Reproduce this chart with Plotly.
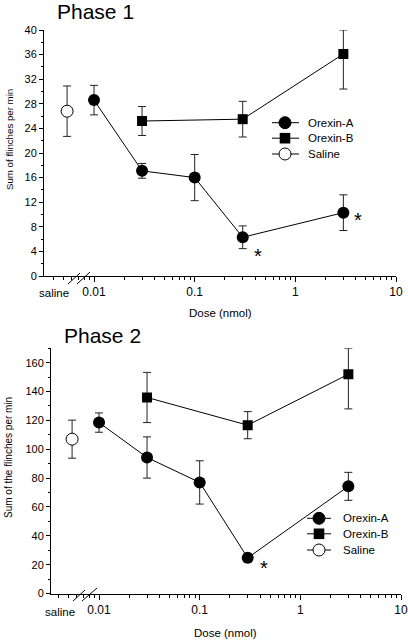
import math
import plotly.graph_objects as go

W, H = 408, 640
FONT = "Liberation Sans, Arial, sans-serif"

# ---------------- data ----------------
doses_A = [0.01, 0.03, 0.1, 0.3, 3]
doses_B = [0.03, 0.3, 3]
saline_pos = 0.0054          # plotting position of the saline group (broken axis)

p1_orexA = [28.6, 17.1, 16.0, 6.3, 10.3]
p1_orexA_err = [2.4, 1.2, 3.75, 1.85, 2.9]
p1_orexB = [25.2, 25.5, 36.1]
p1_orexB_err_up = [2.35, 2.9, 3.9]
p1_orexB_err_dn = [2.35, 2.9, 5.7]
p1_saline = [26.8]
p1_saline_err = [4.1]

p2_orexA = [118.5, 94.3, 77.0, 24.7, 74.3]
p2_orexA_err = [6.7, 14.3, 15.0, 3.0, 9.7]
p2_orexB = [135.9, 116.7, 152.0]
p2_orexB_err_up = [17.4, 9.4, 18.0]
p2_orexB_err_dn = [17.4, 9.4, 24.0]
p2_saline = [107.0]
p2_saline_err = [13.2]

x_tickvals = [0.01, 0.1, 1, 10]
x_ticktext = ["0.01", "0.1", "1", "10"]
x_minor = [m * 10.0 ** e for e in range(-3, 1) for m in range(2, 10)]

series_names = ["Orexin-A", "Orexin-B", "Saline"]


def px(x):
    return x / W


def py(y):
    return 1 - y / H


ERR = dict(color="#222", thickness=1, width=4)

fig = go.Figure()


def add_panel(xa, ya, A, Aerr, B, Bup, Bdn, S, Serr):
    fig.add_trace(go.Scatter(
        x=[saline_pos], y=S, mode="markers", name="Saline", showlegend=False,
        marker=dict(symbol="circle", size=12, color="white", line=dict(color="black", width=1)),
        error_y=dict(type="data", array=Serr, **ERR), xaxis=xa, yaxis=ya))
    fig.add_trace(go.Scatter(
        x=doses_B, y=B, mode="lines+markers", name="Orexin-B", showlegend=False,
        line=dict(color="black", width=1),
        marker=dict(symbol="square", size=10, color="black"),
        error_y=dict(type="data", array=Bup, arrayminus=Bdn, symmetric=False, **ERR),
        xaxis=xa, yaxis=ya))
    fig.add_trace(go.Scatter(
        x=doses_A, y=A, mode="lines+markers", name="Orexin-A", showlegend=False,
        line=dict(color="black", width=1),
        marker=dict(symbol="circle", size=12, color="black"),
        error_y=dict(type="data", array=Aerr, **ERR),
        xaxis=xa, yaxis=ya))


add_panel("x", "y", p1_orexA, p1_orexA_err, p1_orexB, p1_orexB_err_up, p1_orexB_err_dn,
          p1_saline, p1_saline_err)
add_panel("x2", "y2", p2_orexA, p2_orexA_err, p2_orexB, p2_orexB_err_up, p2_orexB_err_dn,
          p2_saline, p2_saline_err)


def xaxis_cfg(domain, rng, anchor):
    return dict(type="log", range=rng, domain=domain, anchor=anchor,
                showline=True, linecolor="black", linewidth=1, showgrid=False, zeroline=False,
                ticks="outside", ticklen=5, tickwidth=1, tickcolor="black",
                tickmode="array", tickvals=x_tickvals, ticktext=x_ticktext,
                tickfont=dict(family=FONT, size=12, color="black"),
                minor=dict(tickmode="array", tickvals=x_minor, ticks="outside",
                           ticklen=3, tickwidth=1, tickcolor="black"),
                automargin=False, fixedrange=True)


def yaxis_cfg(domain, rng, anchor, dtick, mdtick):
    return dict(range=rng, domain=domain, anchor=anchor,
                showline=True, linecolor="black", linewidth=1, showgrid=False, zeroline=False,
                ticks="outside", ticklen=4, tickwidth=1, tickcolor="black",
                tick0=0, dtick=dtick,
                tickfont=dict(family=FONT, size=11, color="black"),
                minor=dict(dtick=mdtick, tick0=0, ticks="outside", ticklen=2,
                           tickwidth=1, tickcolor="black"),
                automargin=False, fixedrange=True)


shapes = []
annotations = []


def text(x, y, s, size, **kw):
    annotations.append(dict(x=px(x), y=py(y), xref="paper", yref="paper", text=s,
                            showarrow=False, font=dict(family=FONT, size=size, color="black"),
                            **kw))


def legend(lx0, lx1, mx, tx, ys):
    r = 6
    s = 5.3
    for name, yy in zip(series_names, ys):
        shapes.append(dict(type="line", xref="paper", yref="paper",
                           x0=px(lx0), x1=px(lx1), y0=py(yy), y1=py(yy),
                           line=dict(color="black", width=1)))
        if name == "Orexin-B":
            shapes.append(dict(type="rect", xref="paper", yref="paper",
                               x0=px(mx - s), x1=px(mx + s), y0=py(yy + s), y1=py(yy - s),
                               fillcolor="black", line=dict(color="black", width=0)))
        else:
            shapes.append(dict(type="circle", xref="paper", yref="paper",
                               x0=px(mx - r), x1=px(mx + r), y0=py(yy + r), y1=py(yy - r),
                               fillcolor="black" if name == "Orexin-A" else "white",
                               line=dict(color="black", width=1)))
        text(tx, yy, name, 11.5, xanchor="left", yanchor="middle")


def breakmarks(segs):
    for (x0, y0, x1, y1) in segs:
        shapes.append(dict(type="line", xref="paper", yref="paper",
                           x0=px(x0), y0=py(y0), x1=px(x1), y1=py(y1),
                           line=dict(color="black", width=1)))


# panel 1 decorations
text(55, 11, "Phase 1", 21, xanchor="left", yanchor="middle")
text(9, 140, "Sum of flinches per min", 9.7, textangle=-90, xanchor="center", yanchor="middle")
text(220, 313, "Dose (nmol)", 11.5, xanchor="center", yanchor="middle")
text(54, 293, "saline", 11.5, xanchor="center", yanchor="middle")
legend(272, 299, 285, 306, [122.7, 138.2, 154])
breakmarks([(68, 284, 80, 273), (77, 284, 90, 272)])

# panel 2 decorations
text(62, 335, "Phase 2", 21, xanchor="left", yanchor="middle")
text(8, 458, "Sum of the flinches per min", 10, textangle=-90, xanchor="center", yanchor="middle")
text(225, 633, "Dose (nmol)", 11.5, xanchor="center", yanchor="middle")
text(60, 612, "saline", 11.5, xanchor="center", yanchor="middle")
legend(307, 331, 319, 341, [518.3, 533.8, 550])
breakmarks([(73, 601, 85, 590), (82, 601, 97, 588)])

# significance asterisks, anchored to data points
for xa, ya, xv, yv, dx, dy in [("x", "y", doses_A[3], p1_orexA[3], 15, -19),
                               ("x", "y", doses_A[4], p1_orexA[4], 15, -7),
                               ("x2", "y2", doses_A[3], p2_orexA[3], 16, -10)]:
    annotations.append(dict(x=math.log10(xv), y=yv, xref=xa, yref=ya, text="*",
                            showarrow=False, font=dict(family=FONT, size=20, color="black"),
                            xshift=dx, yshift=dy))

fig.update_layout(
    width=W, height=H, margin=dict(l=0, r=0, t=0, b=0),
    paper_bgcolor="white", plot_bgcolor="white", showlegend=False,
    font=dict(family=FONT, color="black"),
    xaxis=xaxis_cfg([44 / W, 396 / W], [-2.497, 1], "y"),
    yaxis=yaxis_cfg([py(276), py(30)], [0, 40], "x", 4, 2),
    xaxis2=xaxis_cfg([51 / W, 401 / W], [-2.477, 1], "y2"),
    yaxis2=yaxis_cfg([py(593.5), py(348.3)], [0, 170], "x2", 20, 10),
    shapes=shapes, annotations=annotations,
)

fig.write_html("out.html", config={"displayModeBar": False},
               post_script="document.body.style.margin='0';document.body.style.overflow='hidden';")
